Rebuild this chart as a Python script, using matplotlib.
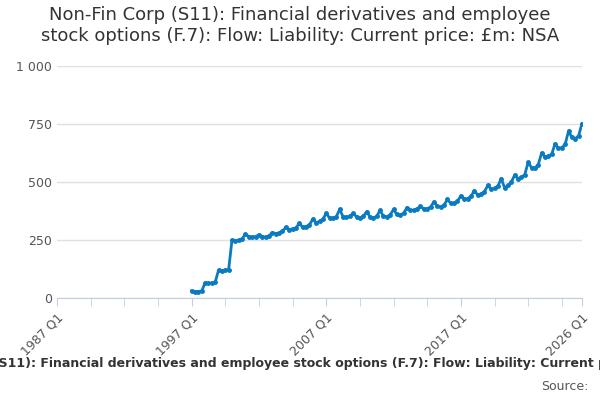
import numpy as np
import matplotlib.pyplot as plt


def generate_plot():
    # 분기별 값 (1997 Q1 ~ 2026 Q1)
    values = [
        30, 28, 28, 30,        # 1997
        65, 63, 65, 68,        # 1998
        120, 118, 120, 122,    # 1999
        250, 245, 250, 255,    # 2000
        275, 265, 262, 265,    # 2001
        272, 265, 262, 268,    # 2002
        282, 278, 280, 288,    # 2003
        305, 295, 298, 302,    # 2004
        322, 305, 308, 315,    # 2005
        340, 325, 330, 340,    # 2006
        365, 345, 345, 350,    # 2007
        383, 350, 348, 352,    # 2008
        365, 350, 345, 352,    # 2009
        372, 350, 345, 352,    # 2010
        378, 352, 350, 358,    # 2011
        382, 360, 358, 365,    # 2012
        390, 378, 378, 385,    # 2013
        395, 385, 385, 392,    # 2014
        415, 395, 393, 400,    # 2015
        425, 408, 408, 418,    # 2016
        440, 428, 428, 438,    # 2017
        462, 445, 448, 458,    # 2018
        485, 470, 472, 482,    # 2019
        515, 475, 485, 500,    # 2020
        530, 515, 520, 532,    # 2021
        585, 562, 560, 575,    # 2022
        625, 608, 610, 620,    # 2023
        665, 645, 648, 662,    # 2024
        720, 692, 686, 700,    # 2025
        752,                   # 2026
    ]
    x = 1997 + np.arange(len(values)) / 4

    fig = plt.figure(figsize=(6, 4), dpi=100)
    ax = fig.add_axes([0.095, 0.255, 0.875, 0.58])

    ax.plot(x, values, color='#0a7bc2', linewidth=2, marker='o', markersize=2.5)

    ax.set_xlim(1987, 2026)
    ax.set_ylim(0, 1000)
    ax.set_yticks([0, 250, 500, 750, 1000])
    ax.set_yticklabels(['0', '250', '500', '750', '1 000'])
    ax.set_xticks([1987, 1997, 2007, 2017, 2026])
    ax.set_xticklabels(['1987 Q1', '1997 Q1', '2007 Q1', '2017 Q1', '2026 Q1'],
                       rotation=45, ha='right', rotation_mode='anchor')
    ax.set_xticks(np.arange(1987, 2026.1, 2.5), minor=True)
    ax.tick_params(axis='x', which='both', length=6, color='#c0d0e0', labelsize=9, labelcolor='#555555')
    ax.tick_params(axis='y', length=0, labelsize=9, labelcolor='#555555')

    ax.grid(axis='y', color='#e0e0e0', linewidth=1)
    ax.set_axisbelow(True)
    for side in ['top', 'right', 'left']:
        ax.spines[side].set_visible(False)
    ax.spines['bottom'].set_color('#c0d0e0')

    # 제목
    fig.text(0.5, 0.985, 'Non-Fin Corp (S11): Financial derivatives and employee\n'
             'stock options (F.7): Flow: Liability: Current price: £m: NSA',
             ha='center', va='top', fontsize=13, color='#333333')
    fig.text(0.5, 0.09, 'Non-Fin Corp (S11): Financial derivatives and employee stock options (F.7): Flow: Liability: Current price: £m: NSA',
             ha='center', va='center', fontsize=9, fontweight='bold', color='#333333')
    fig.text(0.98, 0.035, 'Source:', ha='right', va='center', fontsize=9, color='#555555')

    fig.savefig('out.png')
    plt.close(fig)


if __name__ == "__main__":
    generate_plot()
